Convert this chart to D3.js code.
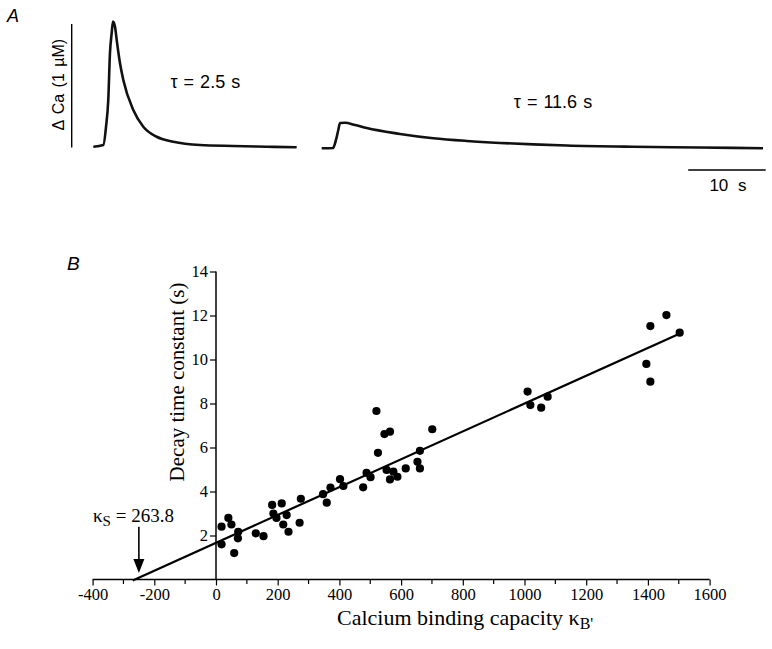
<!DOCTYPE html>
<html>
<head>
<meta charset="utf-8">
<script src="https://cdn.jsdelivr.net/npm/d3@7"></script>
<style>
  html, body { margin: 0; padding: 0; background: #fff; }
  svg { display: block; }
  .tickserif text { font-family: "Liberation Serif", "Times New Roman", Times, serif !important; font-size: 16.5px !important; }
</style>
</head>
<body>
<svg id="chart" width="772" height="649"></svg>
<script>
const SANS = '"Liberation Sans", Arial, Helvetica, sans-serif';
const SERIF = '"Liberation Serif", "Times New Roman", Times, serif';

// ---------- Panel A data: two Ca2+ transients (time in s, ΔCa in µM) ----------
const trace1Time = [0.04, 1.33, 1.68, 1.97, 2.19, 2.41, 2.58, 2.84, 3.06, 3.48, 3.91, 5.2, 6.49, 8.21, 10.36, 13.81, 18.1, 22.41, 26.28];
const trace1Ca   = [0.006, 0.02, 0.168, 0.385, 0.765, 0.927, 1.019, 0.978, 0.87, 0.684, 0.547, 0.304, 0.168, 0.087, 0.047, 0.02, 0.012, 0.006, 0.002];
const trace2Time = [29.51, 30.97, 31.35, 31.65, 31.87, 32.52, 33.81, 35.32, 39.61, 43.91, 48.22, 52.52, 56.81, 61.12, 69.72, 78.32, 86.45];
const trace2Ca   = [-0.006, -0.004, 0.061, 0.142, 0.198, 0.2, 0.182, 0.157, 0.11, 0.075, 0.053, 0.037, 0.025, 0.016, 0.006, 0.0, -0.006];
const tauLabels = ["τ = 2.5 s", "τ = 11.6 s"];
const tauLabelTime = [10, 54.3];
const tauLabelCa = [0.48, 0.32];
const scaleBarTime = [76.8, 86.8];   // 10 s
const scaleBarCa = [0, 1];           // 1 µM

// ---------- Panel B data ----------
const kappaB = [18, 40, 50, 18, 59, 72, 71, 129, 154, 182, 186, 213, 196, 229, 218, 235, 271, 275,
                347, 359, 371, 402, 413, 477, 488, 501, 520, 546, 564, 525, 553, 564, 575, 588,
                615, 653, 661, 661, 701, 1010, 1019, 1054, 1075, 1408, 1460, 1503, 1395, 1408];
const decayTau = [2.4, 2.8, 2.5, 1.6, 1.2, 2.17, 1.87, 2.1, 1.97, 3.39, 3.0, 3.46, 2.8, 2.93, 2.5, 2.17, 2.58, 3.67,
                  3.88, 3.49, 4.18, 4.56, 4.25, 4.19, 4.85, 4.65, 7.66, 6.61, 6.72, 5.76, 4.98, 4.55, 4.9, 4.67,
                  5.05, 5.35, 5.05, 5.85, 6.83, 8.54, 7.93, 7.81, 8.31, 11.52, 12.02, 11.22, 9.8, 8.99];
const fitKappa = [-270, 1495];
const fitTau = [-0.04, 11.13];
const xTickValues = [-400, -200, 0, 200, 400, 600, 800, 1000, 1200, 1400, 1600];
const xMinorTicks = [-300, -100, 100, 300, 500, 700, 900, 1100, 1300, 1500];
const yTickValues = [2, 4, 6, 8, 10, 12, 14];
const kappaSLabel = "263.8";
const arrowKappa = -250;
const arrowTau = [2.4, 0.3];

const svg = d3.select("#chart");

// ================= Panel A =================
const xA = d3.scaleLinear().domain([0, 10]).range([93, 170.5]);
const yA = d3.scaleLinear().domain([0, 1]).range([147.5, 24]);

svg.append("text").attr("font-family", SANS).attr("x", 7).attr("y", 22)
  .attr("font-size", 18).attr("font-style", "italic").text("A");

// vertical scale bar (1 µM)
svg.append("line").attr("x1", 71.7).attr("x2", 71.7)
  .attr("y1", yA(scaleBarCa[0])).attr("y2", yA(scaleBarCa[1]))
  .attr("stroke", "#000").attr("stroke-width", 1.4);
svg.append("text").attr("font-family", SANS)
  .attr("transform", `translate(64,${(yA(0) + yA(1)) / 2 - 1}) rotate(-90)`)
  .attr("text-anchor", "middle").attr("font-size", 16)
  .attr("word-spacing", 2)
  .text("Δ Ca (1 µM)");

const lineA = d3.line().x(d => xA(d[0])).y(d => yA(d[1])).curve(d3.curveMonotoneX);
[[trace1Time, trace1Ca], [trace2Time, trace2Ca]].forEach(([t, c]) => {
  const pts = t.map((v, i) => [v, c[i]]);
  svg.append("path").datum(pts).attr("d", lineA)
    .attr("fill", "none").attr("stroke", "#111").attr("stroke-width", 2.6)
    .attr("stroke-linejoin", "round");
});

tauLabels.forEach((lab, i) => {
  svg.append("text").attr("font-family", SANS)
    .attr("x", xA(tauLabelTime[i])).attr("y", yA(tauLabelCa[i]))
    .attr("font-size", 18).attr("word-spacing", 1).text(lab);
});

// horizontal scale bar (10 s)
svg.append("line").attr("x1", xA(scaleBarTime[0])).attr("x2", xA(scaleBarTime[1]))
  .attr("y1", 170).attr("y2", 170).attr("stroke", "#000").attr("stroke-width", 1.6);
svg.append("text").attr("font-family", SANS)
  .attr("x", (xA(scaleBarTime[0]) + xA(scaleBarTime[1])) / 2 + 1).attr("y", 191)
  .attr("text-anchor", "middle").attr("font-size", 17).attr("word-spacing", 5).text("10 s");

// ================= Panel B =================
const xB = d3.scaleLinear().domain([-400, 1600]).range([92.6, 709.6]);
const yB = d3.scaleLinear().domain([0, 14]).range([579.5, 271.5]);

svg.append("text").attr("font-family", SANS).attr("x", 67).attr("y", 270)
  .attr("font-size", 19).attr("font-style", "italic").text("B");

// x axis
const xAxisG = svg.append("g").attr("class", "tickserif")
  .attr("transform", `translate(0,${yB(0)})`)
  .call(d3.axisBottom(xB).tickValues(xTickValues).tickSize(6).tickPadding(3).tickFormat(d3.format("d")));
xAxisG.attr("font-family", SERIF).attr("font-size", 16.5);
xAxisG.select(".domain").attr("d", `M${xB(-400)},0H${xB(1600)}`).attr("stroke-width", 1.5);
xAxisG.selectAll(".tick line").attr("stroke-width", 1.2);
xAxisG.selectAll(".tick text")
  .style("font-family", SERIF).style("font-size", "16.5px").attr("fill", "#000")
  .text(d => d < 0 ? "-" + Math.abs(d) : String(d));
xAxisG.selectAll(".minor").data(xMinorTicks).enter().append("line")
  .attr("class", "minor").attr("x1", d => xB(d)).attr("x2", d => xB(d))
  .attr("y1", 0).attr("y2", 4.5).attr("stroke", "#000").attr("stroke-width", 1.2);

// y axis
const yAxisG = svg.append("g").attr("class", "tickserif")
  .attr("transform", `translate(${xB(0)},0)`)
  .call(d3.axisLeft(yB).tickValues(yTickValues).tickSize(6).tickPadding(2));
yAxisG.attr("font-family", SERIF).attr("font-size", 16.5);
yAxisG.select(".domain").attr("d", `M0,${yB(0)}V${yB(14)}`).attr("stroke-width", 1.5);
yAxisG.selectAll(".tick line").attr("stroke-width", 1.2);
yAxisG.selectAll(".tick text")
  .style("font-family", SERIF).style("font-size", "16.5px").attr("fill", "#000");

// axis titles
svg.append("text").attr("font-family", SERIF)
  .attr("transform", `translate(184,382) rotate(-90)`)
  .attr("text-anchor", "middle").attr("font-size", 21)
  .text("Decay time constant (s)");

const xt = svg.append("text").attr("font-family", SERIF)
  .attr("x", 337).attr("y", 625).attr("font-size", 22);
xt.append("tspan").text("Calcium binding capacity κ");
xt.append("tspan").attr("font-size", 16).attr("dy", 4).text("B'");

// fit line
svg.append("line")
  .attr("x1", xB(fitKappa[0])).attr("y1", yB(fitTau[0]))
  .attr("x2", xB(fitKappa[1])).attr("y2", yB(fitTau[1]))
  .attr("stroke", "#000").attr("stroke-width", 2.2);

// points
svg.append("g").selectAll("circle").data(kappaB).enter().append("circle")
  .attr("cx", d => xB(d)).attr("cy", (d, i) => yB(decayTau[i]))
  .attr("r", 4.1).attr("fill", "#000");

// arrow with κS label
const ax = xB(arrowKappa), ay1 = yB(arrowTau[0]), ay2 = yB(arrowTau[1]);
svg.append("line").attr("x1", ax).attr("x2", ax).attr("y1", ay1).attr("y2", ay2 - 12)
  .attr("stroke", "#000").attr("stroke-width", 1.6);
svg.append("path")
  .attr("d", `M${ax - 5.5},${ay2 - 14}L${ax + 5.5},${ay2 - 14}L${ax},${ay2}Z`)
  .attr("fill", "#000");
const kl = svg.append("text").attr("font-family", SERIF).attr("x", 93).attr("y", 521.5).attr("font-size", 19);
kl.append("tspan").text("κ");
kl.append("tspan").attr("font-size", 15).attr("dy", 4).text("S");
kl.append("tspan").attr("dy", -4).text(" = " + kappaSLabel);
</script>
</body>
</html>
